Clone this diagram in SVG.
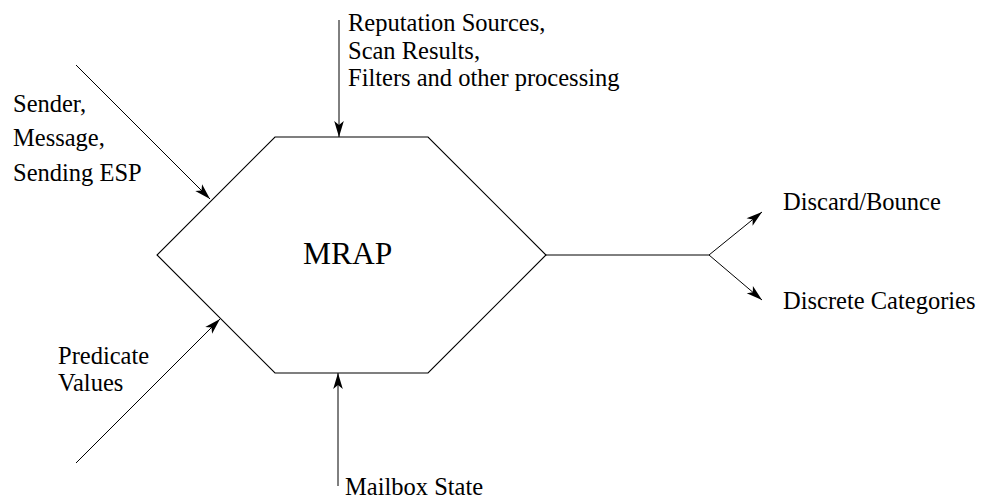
<svg xmlns="http://www.w3.org/2000/svg" width="983" height="501" viewBox="0 0 983 501">
  <style>
    .edge { stroke: #000; stroke-width: 1; fill: none; }
    .shape { stroke: #000; stroke-width: 1.1; fill: #fff; stroke-linejoin: miter; }
    .lbl { font-family: "Liberation Serif", "Times New Roman", serif; font-size: 24.5px; fill: #000; }
    .big { font-family: "Liberation Serif", "Times New Roman", serif; font-size: 31.5px; fill: #000; }
  </style>
  <defs>
    <marker id="head" markerUnits="userSpaceOnUse" markerWidth="20" markerHeight="12" viewBox="-17 -6 18 12" refX="0" refY="0" orient="auto">
      <path d="M0,0 L-16,-4.8 L-12,0 L-16,4.8 Z" fill="#000"/>
    </marker>
  </defs>
  <rect width="983" height="501" fill="#fff"/>

  <g id="connectors">
    <line class="edge" x1="76" y1="65" x2="210" y2="199" marker-end="url(#head)"/>
    <line class="edge" x1="76" y1="463" x2="220" y2="319" marker-end="url(#head)"/>
    <line class="edge" x1="339" y1="20" x2="339" y2="137" marker-end="url(#head)"/>
    <line class="edge" x1="338" y1="486" x2="338" y2="373" marker-end="url(#head)"/>
    <line class="edge" x1="546" y1="255" x2="709" y2="255"/>
    <line class="edge" x1="709" y1="255" x2="762" y2="212" marker-end="url(#head)"/>
    <line class="edge" x1="709" y1="255" x2="762" y2="300" marker-end="url(#head)"/>
  </g>

  <g id="mrap">
    <polygon class="shape" points="275,137 428,137 546,255 428,373 275,373 157,255"/>
    <text class="big" x="303" y="264">MRAP</text>
  </g>

  <g id="sender-inputs">
    <text class="lbl" x="13" y="112">Sender,</text>
    <text class="lbl" x="13" y="146">Message,</text>
    <text class="lbl" x="13" y="181">Sending ESP</text>
  </g>

  <g id="reputation-inputs">
    <text class="lbl" x="348" y="31">Reputation Sources,</text>
    <text class="lbl" x="348" y="59">Scan Results,</text>
    <text class="lbl" x="348" y="86">Filters and other processing</text>
  </g>

  <g id="predicate-inputs">
    <text class="lbl" x="58" y="364">Predicate</text>
    <text class="lbl" x="58" y="391">Values</text>
  </g>

  <g id="mailbox-state">
    <text class="lbl" x="345" y="495">Mailbox State</text>
  </g>

  <g id="discard-bounce">
    <text class="lbl" x="783" y="210">Discard/Bounce</text>
  </g>

  <g id="discrete-categories">
    <text class="lbl" x="783" y="309">Discrete Categories</text>
  </g>
</svg>
